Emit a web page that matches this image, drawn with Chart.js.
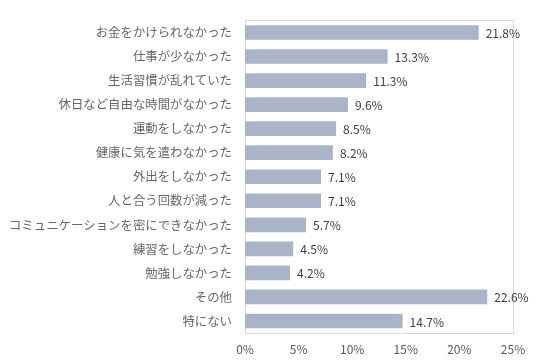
<!DOCTYPE html>
<html>
<head>
<meta charset="utf-8">
<script src="https://cdn.jsdelivr.net/npm/chart.js@4"></script>
<style>
  html, body { margin: 0; padding: 0; background: #fff; }
  #wrap { width: 536px; height: 363px; }
</style>
</head>
<body>
<div id="wrap"><canvas id="chart"></canvas></div>
<script>
// Categories and values (%)
const categories = [
    'お金をかけられなかった',
    '仕事が少なかった',
    '生活習慣が乱れていた',
    '休日など自由な時間がなかった',
    '運動をしなかった',
    '健康に気を遣わなかった',
    '外出をしなかった',
    '人と合う回数が減った',
    'コミュニケーションを密にできなかった',
    '練習をしなかった',
    '勉強しなかった',
    'その他',
    '特にない'
];
const values = [21.8, 13.3, 11.3, 9.6, 8.5, 8.2, 7.1, 7.1, 5.7, 4.5, 4.2, 22.6, 14.7];
const xTicks = [0, 5, 10, 15, 20, 25];

const FONT = '"Noto Sans CJK JP", "Noto Sans", sans-serif';

// Frame around the plot area
const frame = {
    id: 'frame',
    beforeDatasetsDraw(chart) {
        const a = chart.chartArea;
        const ctx = chart.ctx;
        ctx.save();
        ctx.strokeStyle = '#d9d9d9';
        ctx.lineWidth = 1;
        ctx.strokeRect(Math.round(a.left) + 0.5, Math.round(a.top) + 0.5,
            Math.round(a.right - a.left), Math.round(a.bottom - a.top));
        ctx.restore();
    }
};

// Value labels at bar ends
const valueLabels = {
    id: 'valueLabels',
    afterDatasetsDraw(chart) {
        const ctx = chart.ctx;
        const meta = chart.getDatasetMeta(0);
        ctx.save();
        ctx.font = '12px ' + FONT;
        ctx.fillStyle = '#404040';
        ctx.textAlign = 'left';
        ctx.textBaseline = 'middle';
        meta.data.forEach((bar, i) => {
            ctx.fillText(values[i].toFixed(1) + '%', bar.x + 7, bar.y + 1);
        });
        ctx.restore();
    }
};

new Chart(document.getElementById('chart'), {
    type: 'bar',
    data: {
        labels: categories,
        datasets: [{
            data: values,
            backgroundColor: '#a9b4c8',
            barPercentage: 0.61,
            categoryPercentage: 1
        }]
    },
    options: {
        indexAxis: 'y',
        responsive: true,
        maintainAspectRatio: false,
        animation: false,
        layout: { padding: { top: 13, right: 23, left: 0, bottom: 0 } },
        plugins: {
            legend: { display: false },
            tooltip: { enabled: false }
        },
        scales: {
            x: {
                min: 0,
                max: 25,
                afterBuildTicks: scale => {
                    scale.ticks = xTicks.map(v => ({ value: v }));
                },
                afterFit: scale => { scale.height = 30; },
                grid: { display: false, drawTicks: false },
                border: { display: false },
                ticks: {
                    padding: 9,
                    color: '#595959',
                    font: { family: FONT, size: 12 },
                    callback: v => v + '%'
                }
            },
            y: {
                afterFit: scale => { scale.width = 245; },
                grid: { display: false, drawTicks: false },
                border: { display: false },
                ticks: {
                    padding: 13,
                    color: '#666666',
                    font: { family: FONT, size: 12.4 }
                }
            }
        }
    },
    plugins: [frame, valueLabels]
});
</script>
</body>
</html>
